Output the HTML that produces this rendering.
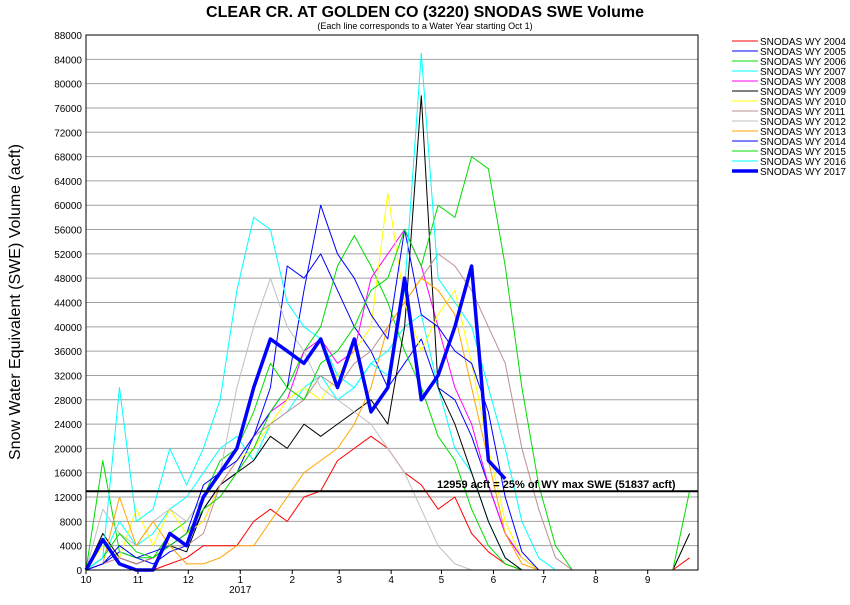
<!DOCTYPE html>
<html><head><meta charset="utf-8"><style>
body{margin:0;background:#fff;font-family:"Liberation Sans",sans-serif}
svg text{font-family:"Liberation Sans",sans-serif}
</style></head><body>
<svg id="chart" width="850" height="600" xmlns="http://www.w3.org/2000/svg">
<text x="425" y="17" text-anchor="middle" font-size="16" font-weight="bold">CLEAR CR. AT GOLDEN CO (3220) SNODAS SWE Volume</text>
<text x="425" y="29" text-anchor="middle" font-size="9">(Each line corresponds to a Water Year starting Oct 1)</text>
<text transform="translate(20,302) rotate(-90)" text-anchor="middle" font-size="16">Snow Water Equivalent (SWE) Volume (acft)</text>
<g id="grid"></g><g id="series"></g><g id="axes"></g><g id="legend"></g>
</svg>
<script>
const yTicks=[0,4000,8000,12000,16000,20000,24000,28000,32000,36000,40000,44000,48000,52000,56000,60000,64000,68000,72000,76000,80000,84000,88000];
const monthLabels=["10","11","12","1","2","3","4","5","6","7","8","9"];
const monthDays=[0,31,61,92,123,151,182,212,243,273,304,335];
const years=["2004","2005","2006","2007","2008","2009","2010","2011","2012","2013","2014","2015","2016","2017"];
const colors=["#ff0000","#0000ff","#00dd00","#00ffff","#ff00ff","#000000","#ffff00","#bc8f8f","#c0c0c0","#ffa500","#0000ff","#00dd00","#00ffff","#0000ff"];
const s2004=[0,0,0,0,0,1,2,4,4,4,8,10,8,12,13,18,20,22,20,16,14,10,12,6,3,1,0,0,0,0,0,0,0,0,0,0,2];
const s2005=[0,1,3,2,1,3,4,10,14,16,22,30,50,48,52,46,40,36,30,34,38,30,28,22,14,6,2,0,0,0,0,0,0,0,0,0,0];
const s2006=[0,18,3,2,2,6,8,12,18,20,26,34,30,36,40,50,55,50,44,36,30,22,18,10,4,1,0,0,0,0,0,0,0,0,0,0,0];
const s2007=[0,2,8,4,6,10,12,16,20,22,18,24,26,30,32,28,30,34,36,40,42,30,20,16,8,2,0,0,0,0,0,0,0,0,0,0,0];
const s2008=[0,1,2,1,2,4,6,8,14,18,22,26,28,36,38,34,36,48,52,56,50,40,30,24,14,6,2,0,0,0,0,0,0,0,0,0,0];
const s2009=[0,6,2,1,2,4,3,10,14,16,18,22,20,24,22,24,26,28,24,40,78,30,24,16,8,2,0,0,0,0,0,0,0,0,0,0,6];
const s2010=[0,4,2,10,4,10,6,8,14,18,20,24,28,30,28,32,36,40,62,44,36,42,46,34,20,8,2,0,0,0,0,0,0,0,0,0,0];
const s2011=[0,1,2,1,2,4,4,6,14,18,22,24,26,28,32,30,34,36,40,44,48,52,50,46,40,34,20,10,2,0,0,0,0,0,0,0,0];
const s2012=[0,10,6,4,8,10,8,12,16,30,40,48,40,36,30,28,26,24,20,16,10,4,1,0,0,0,0,0,0,0,0,0,0,0,0,0,0];
const s2013=[0,1,12,4,8,4,1,1,2,4,4,8,12,16,18,20,24,30,40,44,48,46,42,30,18,6,1,0,0,0,0,0,0,0,0,0,0];
const s2014=[0,1,4,2,3,4,6,14,16,18,22,26,30,46,60,52,48,42,38,56,42,40,36,34,26,12,3,0,0,0,0,0,0,0,0,0,0];
const s2015=[0,2,6,3,2,4,6,10,12,16,20,26,30,28,34,36,40,46,48,56,50,60,58,68,66,50,30,14,4,0,0,0,0,0,0,0,13];
const s2016=[0,2,30,8,10,20,14,20,28,46,58,56,44,40,38,32,30,34,32,46,85,48,44,40,30,20,8,2,0,0,0,0,0,0,0,0,0];
const s2017=[0,5,1,0,0,6,4,12,16,20,30,38,36,34,38,30,38,26,30,48,28,32,40,50,18,15];
const allSeries=[s2004,s2005,s2006,s2007,s2008,s2009,s2010,s2011,s2012,s2013,s2014,s2015,s2016,s2017];
const threshold=12959;
const NS="http://www.w3.org/2000/svg";
const X0=86,X1=698,Y0=570,Y1=35;
const xs=d=>X0+d*(X1-X0)/365;
const ys=v=>Y0-v*(Y0-Y1)/88000;
function mk(tag,attrs,parent){const e=document.createElementNS(NS,tag);for(const k in attrs)e.setAttribute(k,attrs[k]);parent.appendChild(e);return e;}
const grid=document.getElementById('grid'),axes=document.getElementById('axes'),ser=document.getElementById('series'),leg=document.getElementById('legend');
yTicks.forEach(t=>{
 const l=mk('line',{x1:X0,x2:X1,y1:ys(t),y2:ys(t),stroke:'#a0a0a0','stroke-width':1},grid);
 
 
 const tx=mk('text',{x:X0-4,y:ys(t)+4,'text-anchor':'end','font-size':10},axes);
 tx.textContent=t;
 
 
});
monthLabels.forEach((m,i)=>{
 const x=xs(monthDays[i]);
 const tk=mk('line',{x1:x,x2:x,y1:Y0,y2:Y0+4,stroke:'#000'},axes);
 
 
 const tx=mk('text',{x:x,y:Y0+13,'text-anchor':'middle','font-size':10},axes);
 tx.textContent=m;
 
 
});
const yr=mk('text',{x:xs(92),y:Y0+23,'text-anchor':'middle','font-size':10},axes);
yr.textContent='2017';


const fr=mk('rect',{x:X0,y:Y1,width:X1-X0,height:Y0-Y1,fill:'none',stroke:'#000'},axes);


allSeries.forEach((s,i)=>{
 const pts=s.map((v,j)=>xs(j*10).toFixed(1)+','+ys(v*1000).toFixed(1)).join(' ');
 const p=mk('polyline',{points:pts,fill:'none',stroke:colors[i],'stroke-width':i==13?3.5:1,'stroke-linejoin':'round'},ser);
 
 
});
const th=mk('line',{x1:X0,x2:X1,y1:ys(threshold),y2:ys(threshold),stroke:'#000','stroke-width':2},ser);


const tl=mk('text',{x:437,y:ys(threshold)-3,'font-size':11,'font-weight':'bold'},ser);
tl.textContent='12959 acft = 25% of WY max SWE (51837 acft)';


years.forEach((y,i)=>{
 const yy=41+i*10;
 const g=mk('g',{},leg);
 
 
 mk('line',{x1:732,x2:758,y1:yy,y2:yy,stroke:colors[i],'stroke-width':i==13?3.5:1},g);
 const t=mk('text',{x:760,y:yy+4,'font-size':10},g);
 t.textContent='SNODAS WY '+y;
});
</script>
</body></html>
